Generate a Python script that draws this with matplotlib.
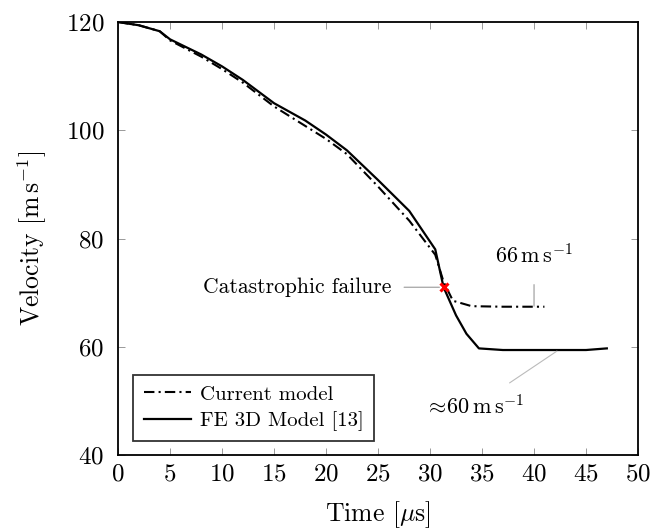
import matplotlib
matplotlib.use("Agg")
import matplotlib.pyplot as plt

plt.rcParams['font.family'] = ['cmr10', 'DejaVu Serif']
plt.rcParams['mathtext.fontset'] = 'cm'
plt.rcParams['axes.unicode_minus'] = False
plt.rcParams['axes.formatter.use_mathtext'] = True

# FE 3D model (solid)
fe_t = [0, 2, 4, 5, 8, 10, 12, 15, 18, 20, 22, 25, 28, 30.5, 31.3, 32.5, 33.5, 34.7, 37, 45, 47]
fe_v = [120, 119.4, 118.3, 116.8, 114.0, 111.8, 109.3, 105.0, 101.8, 99.2, 96.3, 90.8, 85.1, 78.0, 71.0, 65.8, 62.4, 59.7, 59.4, 59.4, 59.7]

# Current model (dash-dot)
cm_t = [0, 2, 4, 5, 8, 10, 12, 15, 18, 20, 22, 25, 28, 30.5, 31.3, 32.2, 34, 37, 41]
cm_v = [120, 119.4, 118.3, 116.6, 113.6, 111.3, 108.8, 104.4, 100.8, 98.4, 95.6, 89.6, 83.3, 77.0, 72.0, 68.5, 67.5, 67.4, 67.4]

fail_t, fail_v = 31.3, 71.0

fig = plt.figure(figsize=(6.56, 5.32), dpi=100)
ax = fig.add_axes([0.180, 0.1447, 0.7926, 0.8139])

ax.plot(cm_t, cm_v, color='black', lw=1.5, linestyle=(0, (5, 2, 1, 2)), label='Current model')
ax.plot(fe_t, fe_v, color='black', lw=1.6, label='FE 3D Model [13]')
ax.plot([fail_t], [fail_v], marker='x', color='red', ms=6, mew=2.2, linestyle='none')

# annotations
ax.annotate('Catastrophic failure', xy=(30.9, 71.0), xytext=(26.3, 71.0),
            ha='right', va='center', fontsize=15.5,
            arrowprops=dict(arrowstyle='-', color='#999999', lw=0.8, shrinkA=7, shrinkB=0))
ax.annotate(r'$66\,\mathrm{m\,s^{-1}}$', xy=(40.0, 67.5), xytext=(40.0, 76.8),
            ha='center', va='center', fontsize=16,
            arrowprops=dict(arrowstyle='-', color='#999999', lw=0.8, shrinkA=10, shrinkB=0))
ax.annotate(r'$\approx\!60\,\mathrm{m\,s^{-1}}$', xy=(42.2, 59.2), xytext=(34.3, 49.0),
            ha='center', va='center', fontsize=16,
            arrowprops=dict(arrowstyle='-', color='#bbbbbb', lw=0.8, shrinkA=11, shrinkB=0))

ax.set_xlim(0, 50)
ax.set_ylim(40, 120)
ax.set_xticks(range(0, 51, 5))
ax.set_yticks(range(40, 121, 20))
ax.tick_params(direction='in', top=True, right=True, length=5, width=0.7,
               color='#999999', labelsize=18)
ax.tick_params(axis='y', pad=10)
ax.tick_params(axis='x', pad=6)
for s in ax.spines.values():
    s.set_linewidth(1.3)

ax.set_xlabel(r'Time [$\mu$s]', fontsize=18.5, labelpad=10)
ax.set_ylabel(r'Velocity [$\mathrm{m\,s^{-1}}$]', fontsize=18.5, labelpad=12)

leg = ax.legend(loc='lower left', bbox_to_anchor=(0.029, 0.032), fontsize=15,
                frameon=True, fancybox=False, handlelength=2.3, borderpad=0.5,
                labelspacing=0.35, handletextpad=0.4, borderaxespad=0.0)
leg.get_frame().set_edgecolor('black')
leg.get_frame().set_linewidth(1.3)

fig.savefig('out.png', dpi=100)
